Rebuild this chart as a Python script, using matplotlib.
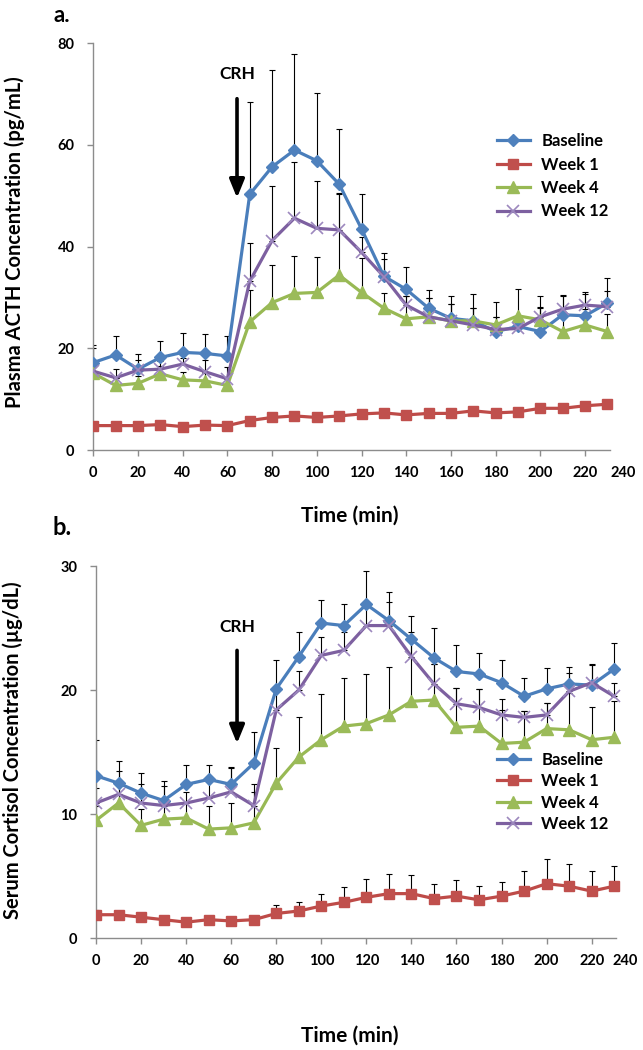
import numpy as np
import matplotlib.pyplot as plt

plt.rcParams['font.family'] = ['Lato', 'DejaVu Sans']
plt.rcParams['font.weight'] = 'bold'

# ============ Data ============

time_min = np.arange(0, 240, 10)
x_tick_labels = [str(v) for v in range(0, 241, 20)]

groups = ["Baseline", "Week 1", "Week 4", "Week 12"]

# ---- panel a: plasma ACTH (pg/mL), mean and upper error ----
acth_baseline = [17.2, 18.7, 15.9, 18.2, 19.2, 19.0, 18.5, 50.3, 55.7, 59.0, 56.9, 52.3,
                 43.5, 34.2, 31.6, 27.9, 25.9, 25.4, 23.3, 24.3, 23.3, 26.6, 26.4, 28.9]
acth_baseline_err = [3.5, 3.8, 2.9, 3.3, 3.9, 3.8, 3.9, 18.2, 19.1, 18.9, 13.3, 10.8,
                     6.8, 4.6, 4.3, 3.6, 4.4, 5.2, 5.8, 2.0, 6.9, 3.9, 4.7, 5.0]
acth_week1 = [4.8, 4.8, 4.8, 5.0, 4.6, 4.9, 4.8, 5.8, 6.4, 6.7, 6.4, 6.7,
              7.1, 7.3, 6.9, 7.2, 7.2, 7.7, 7.3, 7.5, 8.2, 8.2, 8.7, 9.0]
acth_week1_err = [0.5, 0.5, 0.5, 0.5, 0.5, 0.5, 0.5, 0.6, 0.6, 0.7, 0.6, 0.6,
                  0.7, 0.7, 0.6, 0.7, 0.7, 0.7, 0.7, 0.7, 0.8, 0.8, 0.8, 0.8]
acth_week4 = [15.1, 12.7, 13.1, 15.0, 13.8, 13.6, 12.7, 25.2, 29.0, 30.8, 31.0, 34.4,
              31.0, 27.9, 25.8, 26.2, 25.4, 25.4, 24.6, 26.4, 25.6, 23.3, 24.6, 23.3]
acth_week4_err = [1.5, 1.5, 1.5, 1.5, 1.5, 1.6, 1.5, 6.3, 7.3, 7.4, 7.0, 16.0,
                  6.8, 3.0, 4.5, 3.7, 3.3, 2.6, 1.6, 5.2, 2.5, 3.0, 3.2, 3.5]
acth_week12 = [15.5, 14.2, 15.7, 15.9, 16.9, 15.4, 14.0, 33.2, 41.2, 45.6, 43.6, 43.3,
               38.9, 34.1, 28.5, 26.2, 25.4, 24.6, 23.7, 23.9, 26.2, 27.7, 28.5, 28.2]
acth_week12_err = [4.5, 1.7, 2.0, 1.6, 1.1, 2.4, 2.4, 7.6, 10.8, 11.1, 9.3, 7.2,
                   3.0, 3.4, 1.8, 3.7, 3.3, 3.3, 2.5, 2.5, 1.7, 2.6, 2.1, 3.1]

# ---- panel b: serum cortisol (ug/dL), mean and upper error ----
cort_baseline = [13.1, 12.5, 11.7, 11.1, 12.4, 12.8, 12.4, 14.1, 20.1, 22.7, 25.4, 25.2,
                 26.9, 25.6, 24.1, 22.6, 21.5, 21.3, 20.6, 19.5, 20.1, 20.5, 20.4, 21.7]
cort_baseline_err = [2.9, 1.8, 1.6, 1.6, 1.6, 1.2, 1.4, 2.5, 2.3, 2.0, 1.9, 1.7,
                     2.7, 2.3, 1.9, 2.4, 2.1, 1.7, 1.8, 1.5, 1.7, 1.4, 1.6, 2.1]
cort_week1 = [1.9, 1.9, 1.7, 1.5, 1.3, 1.5, 1.4, 1.5, 2.0, 2.2, 2.6, 2.9,
              3.3, 3.6, 3.6, 3.2, 3.4, 3.1, 3.4, 3.8, 4.4, 4.2, 3.8, 4.2]
cort_week1_err = [0.4, 0.3, 0.2, 0.2, 0.2, 0.2, 0.2, 0.2, 0.7, 0.7, 1.0, 1.2,
                  1.5, 1.6, 1.5, 1.2, 1.3, 1.1, 1.1, 1.6, 2.0, 1.8, 1.6, 1.6]
cort_week4 = [9.5, 10.9, 9.1, 9.6, 9.7, 8.8, 8.9, 9.3, 12.5, 14.6, 16.0, 17.1,
              17.3, 18.0, 19.1, 19.2, 17.0, 17.1, 15.7, 15.8, 16.9, 16.8, 16.0, 16.2]
cort_week4_err = [1.2, 1.5, 1.3, 1.2, 1.2, 1.9, 2.0, 2.5, 2.8, 3.2, 3.7, 3.9,
                  4.0, 3.9, 5.0, 2.9, 3.2, 3.0, 2.7, 2.5, 2.1, 3.0, 2.6, 2.9]
cort_week12 = [10.9, 11.6, 10.9, 10.7, 10.9, 11.3, 11.8, 10.7, 18.4, 20.0, 22.8, 23.2,
               25.2, 25.2, 22.7, 20.5, 18.9, 18.6, 18.0, 17.8, 18.0, 19.9, 20.6, 19.5]
cort_week12_err = [1.2, 1.9, 1.5, 1.6, 0.9, 1.5, 1.9, 1.7, 1.5, 1.5, 1.5, 1.5,
                   1.5, 1.9, 2.0, 1.6, 1.3, 1.5, 1.3, 0.5, 1.0, 1.5, 1.5, 1.1]

# ============ Styles ============

styles = {
    "Baseline": dict(color="#4A7EBB", marker="D", ms=6.5, mfc="#4F81BD", mec="#4F81BD", mew=1),
    "Week 1": dict(color="#BE4B48", marker="s", ms=7.5, mfc="#C0504D", mec="#C0504D", mew=1),
    "Week 4": dict(color="#98B954", marker="^", ms=8.5, mfc="#9BBB59", mec="#9BBB59", mew=1),
    "Week 12": dict(color="#7D60A0", marker="x", ms=8, mfc="none", mec="#9C88BE", mew=1.2),
}

fig = plt.figure(figsize=(6.43, 10.5), dpi=100)
W, H = 643, 1050

ax1 = fig.add_axes([93.3 / W, 1 - 450 / H, 240 * 2.235 / W, (450 - 43.3) / H])
ax2 = fig.add_axes([96 / W, 1 - 938.3 / H, 240 * 2.253 / W, (938.3 - 566) / H])


def draw_panel(ax, means, errs, ymax, ystep, last_shift):
    for name, m, e in zip(groups, means, errs):
        m = np.array(m)
        e = np.array(e)
        ax.errorbar(time_min, m, yerr=[np.zeros_like(e), e], fmt="none", ecolor="black",
                    elinewidth=0.8, capsize=2.5, capthick=0.8, zorder=2)
    for name, m in zip(groups, means):
        st = styles[name]
        ax.plot(time_min, m, color=st["color"], lw=2.3, marker=st["marker"], ms=st["ms"],
                mfc=st["mfc"], mec=st["mec"], mew=st["mew"], label=name, zorder=3)

    ax.set_xlim(0, 240)
    ax.set_ylim(0, ymax)
    # the last label (240) sits past the end of the axis line, pulled in like Excel does
    ax.set_xticks(np.arange(0, 221, 20))
    ax.set_xticklabels(x_tick_labels[:-1])
    ax.annotate(x_tick_labels[-1], xy=(240, 0), xycoords=("data", "axes fraction"),
                xytext=(last_shift, -11.5), textcoords="offset points",
                ha="center", va="top", fontsize=10.5, fontweight="bold", annotation_clip=False)
    ax.set_yticks(np.arange(0, ymax + 1, ystep))
    for side in ["top", "right"]:
        ax.spines[side].set_visible(False)
    for side in ["left", "bottom"]:
        ax.spines[side].set_color("#8C8C8C")
        ax.spines[side].set_linewidth(1)
    ax.spines["bottom"].set_bounds(0, 231)
    ax.tick_params(axis="both", direction="out", length=4.5, width=1, color="#8C8C8C",
                   labelsize=10.5, pad=7)
    ax.tick_params(axis="y", pad=9)
    for lab in ax.get_xticklabels() + ax.get_yticklabels():
        lab.set_fontweight("bold")


draw_panel(ax1, [acth_baseline, acth_week1, acth_week4, acth_week12],
           [acth_baseline_err, acth_week1_err, acth_week4_err, acth_week12_err], 80, 20, -5)
draw_panel(ax2, [cort_baseline, cort_week1, cort_week4, cort_week12],
           [cort_baseline_err, cort_week1_err, cort_week4_err, cort_week12_err], 30, 10, -8.5)

# ============ CRH arrows ============
arrow = dict(arrowstyle="-|>,head_width=0.45,head_length=1.1", color="black", lw=2.6,
             shrinkA=0, shrinkB=0)
ax1.annotate("", xy=(64.3, 49.6), xytext=(64.3, 69.1), arrowprops=arrow)
ax1.text(64.3, 74.0, "CRH", ha="center", va="center", fontsize=12.5, fontweight="bold")
ax2.annotate("", xy=(62.6, 15.7), xytext=(62.6, 23.2), arrowprops=arrow)
ax2.text(62.6, 25.1, "CRH", ha="center", va="center", fontsize=12.5, fontweight="bold")

# ============ Legends ============
ax1.legend(loc="upper left", bbox_to_anchor=(497 / W, 1 - 133 / H), bbox_transform=fig.transFigure,
           frameon=False, handlelength=1.95, handletextpad=0.7, labelspacing=0.45,
           borderpad=0, borderaxespad=0, numpoints=1, prop=dict(weight="bold", size=12))
ax2.legend(loc="upper left", bbox_to_anchor=(497 / W, 1 - 752 / H), bbox_transform=fig.transFigure,
           frameon=False, handlelength=1.95, handletextpad=0.7, labelspacing=0.32,
           borderpad=0, borderaxespad=0, numpoints=1, prop=dict(weight="bold", size=12))

# ============ Labels ============
fig.text(350 / W, 1 - 516 / H, "Time (min)", ha="center", va="center", fontsize=15, fontweight="bold")
fig.text(350 / W, 1 - 1036 / H, "Time (min)", ha="center", va="center", fontsize=15, fontweight="bold")
fig.text(15 / W, 1 - 242 / H, "Plasma ACTH Concentration (pg/mL)", rotation=90,
         ha="center", va="center", fontsize=14.5, fontweight="bold")
fig.text(13 / W, 1 - 750 / H, "Serum Cortisol Concentration (µg/dL)", rotation=90,
         ha="center", va="center", fontsize=14.5, fontweight="bold")
fig.text(53 / W, 1 - 22 / H, "a.", ha="left", va="baseline", fontsize=16, fontweight="bold")
fig.text(53 / W, 1 - 535 / H, "b.", ha="left", va="baseline", fontsize=17, fontweight="bold")

fig.savefig("out.png", dpi=100)
